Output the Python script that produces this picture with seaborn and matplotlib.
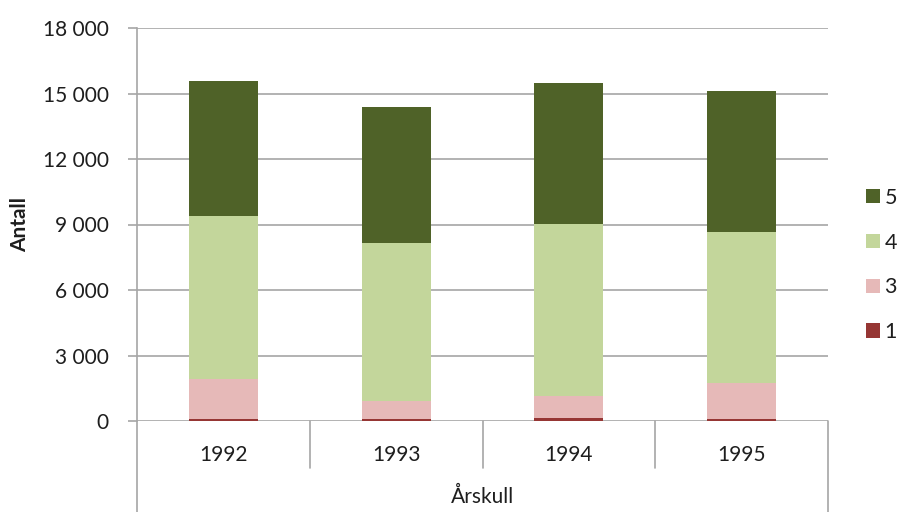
import matplotlib
matplotlib.use("Agg")
import matplotlib.pyplot as plt
import matplotlib.ticker as mticker
from matplotlib.patches import Patch
import seaborn as sns
import numpy as np
import pandas as pd

years = ["1992", "1993", "1994", "1995"]
series_names = ["1", "3", "4", "5"]
v1 = [80, 80, 120, 80]
v3 = [1830, 820, 1040, 1660]
v4 = [7480, 7250, 7850, 6930]
v5 = [6170, 6220, 6490, 6440]
colors = {"1": "#963634", "3": "#E6B9B8", "4": "#C3D69B", "5": "#4F6228"}
y_ticks = [0, 3000, 6000, 9000, 12000, 15000, 18000]
x_title = "Årskull"
y_title = "Antall"

sns.set_theme(style="white")
plt.rcParams["font.family"] = ["Lato", "DejaVu Sans"]
TXT = "#1e1e1e"
GRID = "#A6A6A6"

W, H = 898, 512
fig = plt.figure(figsize=(W / 100, H / 100), dpi=100)
L, R, T, B = 137, 828, 28, 421
ax = fig.add_axes([L / W, 1 - B / H, (R - L) / W, (B - T) / H])

df = pd.DataFrame({"year": years, "1": v1, "3": v3, "4": v4, "5": v5})
cum = df[series_names].cumsum(axis=1)

for name in reversed(series_names):
    sns.barplot(x=df["year"], y=cum[name], color=colors[name], width=0.4,
                ax=ax, saturation=1, zorder=3, linewidth=0, errorbar=None)

ax.set_xlim(-0.5, 3.5)
ax.set_ylim(0, 18000)
ax.set_yticks(y_ticks)
ax.yaxis.set_major_formatter(mticker.FuncFormatter(lambda v, p: f"{int(v):,}".replace(",", " ")))
for y in y_ticks:
    ax.axhline(y, color=GRID, lw=1.2, zorder=1)

for s in ["top", "right", "bottom"]:
    ax.spines[s].set_visible(False)
ax.spines["left"].set_color(GRID)
ax.spines["left"].set_linewidth(1.2)
ax.tick_params(axis="y", direction="out", length=6.5, width=1.2, color=GRID,
               pad=14, labelsize=15, labelcolor=TXT, left=True)
ax.tick_params(axis="x", length=0, pad=17, labelsize=15, labelcolor=TXT)
ax.set_xlabel("")
ax.set_ylabel("")

# category box lines below the axis
trans = ax.get_xaxis_transform()
inner_bot = (B - 468) / (B - T)
outer_bot = (B - 512) / (B - T)
for xs in [0.5, 1.5, 2.5]:
    ax.plot([xs, xs], [0, inner_bot], transform=trans, color=GRID, lw=1.2, clip_on=False)
for xs in [-0.5, 3.5]:
    ax.plot([xs, xs], [0, outer_bot], transform=trans, color=GRID, lw=1.2, clip_on=False)

fig.text((L + R) / 2 / W, 1 - 497 / H, x_title, ha="center", va="center",
         fontsize=15, color=TXT)
fig.text(20 / W, 1 - 225 / H, y_title, ha="center", va="center", rotation=90,
         fontsize=15, fontweight="bold", color=TXT)

handles = [Patch(facecolor=colors[n], edgecolor="none", label=n) for n in reversed(series_names)]
leg = fig.legend(handles=handles, loc="center left", bbox_to_anchor=(866 / W, 1 - 265 / H),
                 frameon=False, fontsize=15.5, handlelength=0.65, handleheight=0.65,
                 handletextpad=0.2, labelspacing=1.15, borderpad=0, borderaxespad=0)
for t in leg.get_texts():
    t.set_color(TXT)

fig.savefig("out.png", dpi=100)
